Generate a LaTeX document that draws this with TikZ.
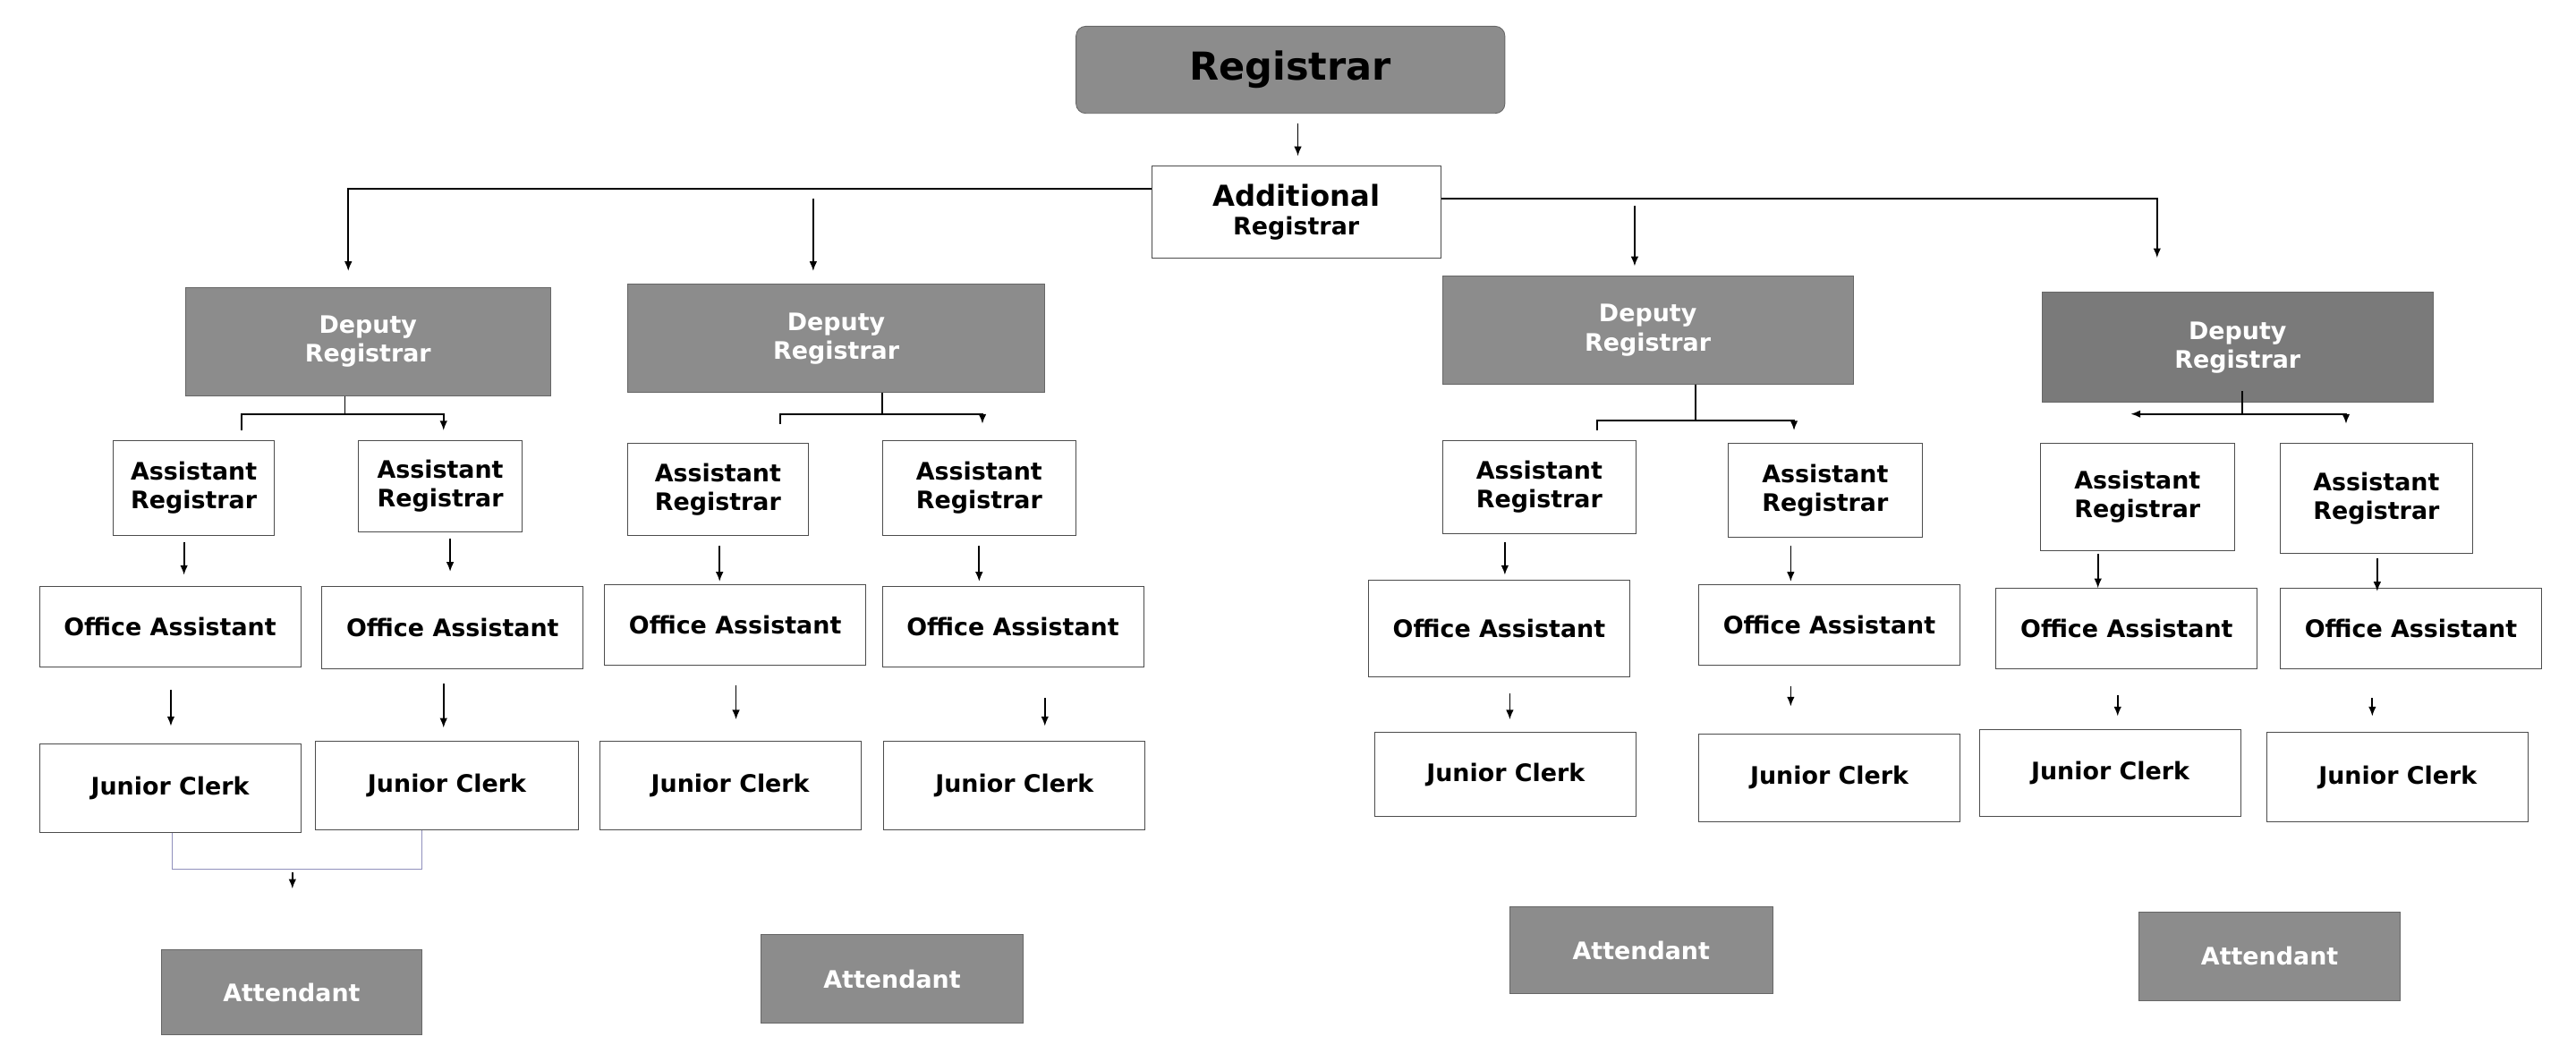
\documentclass[tikz,border=0pt]{standalone}
\usepackage{fontspec}
\setmainfont{DejaVu Sans}
\usetikzlibrary{arrows.meta}
\tikzset{
  box/.style={draw=black!70, fill=white, font=\bfseries\fontsize{12.5}{15}\selectfont, align=center, inner sep=0pt},
  dark/.style={box, fill=black!45, text=white, draw=black!60},
  darker/.style={dark, fill=black!52},
  top/.style={dark, rounded corners=5pt, text=black, font=\bfseries\fontsize{20}{22}\selectfont},
  link/.style={-{Latex[length=5pt,width=4pt]}, thick},
}
\begin{document}
\begin{tikzpicture}[x=0.03cm, y=-0.03cm]
\useasboundingbox (0,0) rectangle (1568,646);
% boxes: name / left / top / right / bottom / style / text
\foreach \n/\a/\b/\c/\d/\s/\t in {
  reg/655/16/916/69/top/Registrar,
  add/701/101/877/157/box/{\fontsize{15}{18}\selectfont Additional\\Registrar},
  dr1/113/175/335/241/dark/{Deputy\\Registrar},
  dr2/382/173/636/239/dark/{Deputy\\Registrar},
  dr3/878/168/1128/234/dark/{Deputy\\Registrar},
  dr4/1243/178/1481/245/darker/{Deputy\\Registrar},
  ar1a/69/268/167/326/box/{Assistant\\Registrar},
  ar1b/218/268/318/324/box/{Assistant\\Registrar},
  ar2a/382/270/492/326/box/{Assistant\\Registrar},
  ar2b/537/268/655/326/box/{Assistant\\Registrar},
  ar3a/878/268/996/325/box/{Assistant\\Registrar},
  ar3b/1052/270/1170/327/box/{Assistant\\Registrar},
  ar4a/1242/270/1360/335/box/{Assistant\\Registrar},
  ar4b/1388/270/1505/337/box/{Assistant\\Registrar},
  oa1a/24/357/183/406/box/Office Assistant,
  oa1b/196/357/355/407/box/Office Assistant,
  oa2a/368/356/527/405/box/Office Assistant,
  oa2b/537/357/696/406/box/Office Assistant,
  oa3a/833/353/992/412/box/Office Assistant,
  oa3b/1034/356/1193/405/box/Office Assistant,
  oa4a/1215/358/1374/407/box/Office Assistant,
  oa4b/1388/358/1547/407/box/Office Assistant,
  jc1a/24/453/183/507/box/Junior Clerk,
  jc1b/192/451/352/505/box/Junior Clerk,
  jc2a/365/451/524/505/box/Junior Clerk,
  jc2b/538/451/697/505/box/Junior Clerk,
  jc3a/837/446/996/497/box/Junior Clerk,
  jc3b/1034/447/1193/500/box/Junior Clerk,
  jc4a/1205/444/1364/497/box/Junior Clerk,
  jc4b/1380/446/1539/500/box/Junior Clerk,
  at1/98/578/257/630/dark/Attendant,
  at2/463/569/623/623/dark/Attendant,
  at3/919/552/1079/605/dark/Attendant,
  at4/1302/555/1461/609/dark/Attendant}
  \node[\s, minimum width={(\c-\a)*0.03cm}, minimum height={(\d-\b)*0.03cm}]
    (\n) at ({(\a+\c)/2},{(\b+\d)/2}) {\t};

% top level
\draw[link] (790,75) -- (790,95);
\draw[link] (add.west |- 0,115) -| (212,165);
\draw[link] (add.east |- 0,121) -| (1313,157);
\draw[link] (495,121) -- (495,165);
\draw[link] (995,125) -- (995,162);

% deputy branches
\draw[thick] (210,241) -- (210,252);
\draw[link] (147,262) |- (270,252) -- (270,262);
\draw[thick] (537,239) -- (537,252);
\draw[link] (475,258) |- (598,252) -- (598,258);
\draw[thick] (1032,234) -- (1032,256);
\draw[link] (972,262) |- (1092,256) -- (1092,262);
\draw[link] (1365,238) -- (1365,252) -- (1297,252);
\draw[link] (1365,252) -- (1428,252) -- (1428,258);

% down arrows
\foreach \x/\p/\q in {112/330/350, 274/328/348, 438/332/354, 596/332/354,
  916/330/350, 1090/332/354, 1277/337/358, 1447/340/360,
  104/420/442, 270/416/443, 448/417/438, 636/425/442,
  919/422/438, 1090/418/430, 1289/423/436, 1444/425/436, 178/531/541}
  \draw[link] (\x,\p) -- (\x,\q);

% attendant bracket
\draw[blue!25!gray!70] (jc1a.south -| 105,0) -- (105,529) -| (jc1b.south -| 257,0);
\end{tikzpicture}
\end{document}
